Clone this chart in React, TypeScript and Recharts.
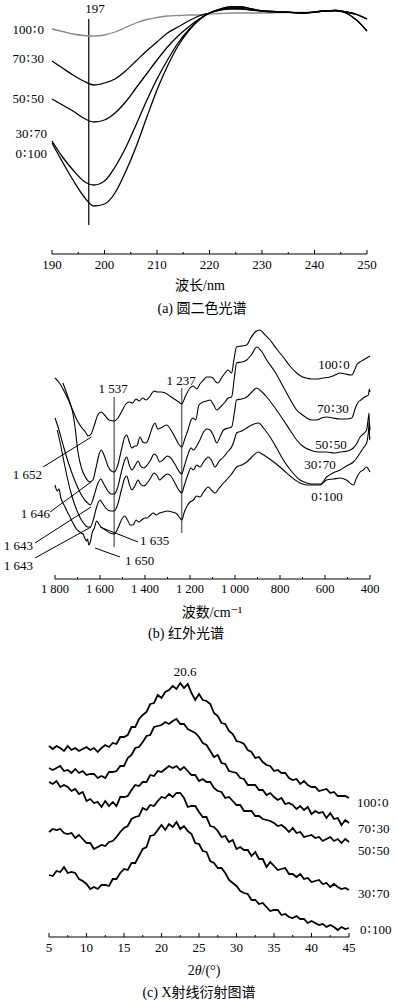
import React from "react";
import { LineChart, Line, XAxis, YAxis, ReferenceLine } from "recharts";

const FONT = '"Liberation Serif", "Times New Roman", "DejaVu Serif", "Noto Sans CJK SC", serif';

// (a) circular dichroism, wavelength in nm, ellipticity in arbitrary units
const cdWavelength = [190, 192, 194, 196, 198, 200, 202, 204, 206, 208, 210, 212, 214, 216, 218, 220, 222, 224, 226, 228, 230, 234, 238, 242, 244, 246, 248, 250];
const cd100_0 = [-3.4, -3.9, -4.4, -4.7, -4.8, -4.6, -4.0, -3.1, -2.2, -1.5, -1.1, -0.8, -0.7, -0.6, -0.6, -0.4, -0.3, -0.2, -0.2, -0.2, -0.2, -0.1, -0.1, 0.2, 0.2, 0, -0.4, -1.4];
const cd70_30 = [-9.8, -11.2, -12.6, -13.8, -14.6, -14.2, -13.4, -11.8, -9.8, -7.8, -6.0, -4.2, -3.0, -1.8, -0.8, -0.2, 0.4, 0.6, 0.6, 0.4, 0.2, 0, -0.2, 0.2, 0.3, 0, -0.5, -1.4];
const cd50_50 = [-17.4, -18.6, -19.8, -21.2, -22.0, -21.6, -20.2, -18.0, -15.2, -12.4, -9.6, -7.0, -4.8, -3.0, -1.4, -0.2, 0.4, 0.8, 0.7, 0.4, 0.2, 0, -0.2, 0.2, 0.3, -0.2, -1.6, -3.8];
const cd30_70 = [-25.8, -29.0, -31.6, -33.8, -34.6, -33.8, -31.0, -27.2, -22.6, -17.8, -13.4, -9.6, -6.2, -3.6, -1.6, -0.2, 0.6, 1.0, 1.0, 0.6, 0.2, 0, -0.2, 0.2, 0.3, -0.2, -1.6, -3.8];
const cd0_100 = [-26.2, -30.0, -33.6, -36.8, -38.8, -38.4, -36.2, -32.0, -27.0, -21.2, -15.6, -10.8, -6.8, -3.8, -1.6, -0.2, 0.6, 1.0, 1.0, 0.6, 0.2, 0, -0.2, 0.2, 0.3, 0, -0.5, -1.4];
const cdTicks = [190, 195, 200, 205, 210, 215, 220, 225, 230, 235, 240, 245, 250];
const cdMajor = [190, 200, 210, 220, 230, 240, 250];
const cdMajorLabels = ["190", "200", "210", "220", "230", "240", "250"];

// (b) infrared, [wavenumber, transmittance a.u.]
const ir100_0: [number, number][] = [
  [1800, 19.8], [1780, 19.3], [1760, 18.5], [1740, 17.6], [1720, 16.5], [1700, 15.5], [1680, 14.8], [1665, 14.4], [1652, 14.0], [1640, 14.2],
  [1625, 15.1], [1610, 16.1], [1595, 16.4], [1580, 16.1], [1560, 15.6], [1537, 15.5], [1520, 15.8], [1500, 16.6], [1485, 17.2], [1470, 17.4],
  [1455, 17.3], [1440, 17.7], [1425, 17.5], [1410, 17.8], [1395, 17.6], [1380, 17.9], [1360, 18.5], [1345, 18.4], [1330, 18.4], [1310, 18.3],
  [1290, 18.0], [1270, 17.7], [1250, 17.4], [1237, 17.2], [1220, 18.0], [1200, 18.8], [1185, 19.0], [1170, 18.7], [1156, 19.2], [1140, 19.6],
  [1126, 19.9], [1110, 19.9], [1098, 19.8], [1085, 19.4], [1075, 19.3], [1060, 19.8], [1044, 20.3], [1031, 20.6], [1015, 20.3], [1005, 21.6],
  [993, 22.9], [970, 23.0], [948, 23.1], [930, 23.8], [910, 24.4], [889, 24.6], [870, 24.2], [844, 23.6], [815, 22.7], [786, 21.9],
  [756, 21.0], [726, 20.3], [700, 19.9], [682, 19.8], [660, 19.7], [637, 19.7], [610, 19.8], [578, 19.9], [555, 20.1], [533, 20.3],
  [510, 20.2], [481, 20.1], [470, 20.5], [459, 21.1], [445, 21.4], [430, 21.6], [415, 21.8], [400, 22.0],
];
const ir70_30: [number, number][] = [
  [1765, 19.3], [1750, 18.4], [1733, 17.3], [1720, 16.2], [1711, 14.9], [1698, 12.4], [1681, 10.7], [1665, 9.9], [1646, 9.4], [1632, 9.6],
  [1618, 10.8], [1605, 12.1], [1595, 12.6], [1582, 12.1], [1565, 11.0], [1550, 10.5], [1537, 10.4], [1522, 11.0], [1505, 12.6], [1490, 13.9],
  [1481, 14.1], [1470, 13.4], [1458, 12.8], [1445, 13.0], [1437, 13.0], [1422, 13.9], [1410, 13.4], [1395, 13.3], [1380, 14.0], [1365, 15.0],
  [1356, 15.3], [1343, 14.7], [1330, 14.8], [1304, 15.1], [1285, 14.6], [1265, 13.8], [1248, 13.1], [1237, 12.9], [1222, 13.8], [1209, 14.6],
  [1195, 15.6], [1186, 15.8], [1175, 15.6], [1160, 17.1], [1141, 17.4], [1125, 17.5], [1111, 17.6], [1095, 17.1], [1081, 16.6], [1065, 16.9],
  [1044, 17.4], [1030, 17.8], [1015, 17.9], [1003, 19.8], [993, 21.3], [970, 21.4], [948, 21.6], [925, 22.2], [904, 22.9], [880, 22.4],
  [859, 21.6], [822, 20.4], [785, 18.9], [756, 17.7], [726, 16.6], [700, 16.1], [681, 15.8], [660, 15.6], [637, 15.6], [615, 15.8],
  [593, 15.9], [565, 15.8], [533, 15.7], [505, 15.7], [481, 15.8], [465, 16.8], [452, 17.4], [440, 17.6], [430, 17.8], [415, 18.0],
  [407, 18.1], [403, 18.7], [400, 18.4],
];
const ir50_50: [number, number][] = [
  [1800, 15.8], [1785, 14.8], [1770, 13.6], [1755, 12.4], [1740, 11.3], [1720, 10.0], [1700, 8.9], [1680, 8.0], [1660, 7.4], [1643, 7.1],
  [1628, 7.9], [1612, 9.1], [1597, 9.7], [1583, 9.2], [1565, 8.5], [1550, 8.2], [1537, 8.2], [1522, 8.8], [1505, 10.4], [1490, 11.6],
  [1481, 11.9], [1470, 11.1], [1458, 10.6], [1445, 11.0], [1431, 11.5], [1420, 11.0], [1405, 10.8], [1390, 11.1], [1375, 11.6], [1360, 12.2],
  [1348, 12.0], [1335, 11.4], [1320, 11.6], [1300, 12.0], [1285, 11.8], [1265, 11.1], [1250, 10.5], [1237, 10.2], [1225, 11.0], [1210, 12.1],
  [1195, 12.8], [1185, 12.6], [1170, 13.0], [1156, 13.6], [1140, 14.4], [1125, 14.7], [1111, 14.6], [1095, 14.0], [1081, 13.3], [1065, 14.0],
  [1051, 14.6], [1030, 14.8], [1015, 14.9], [1003, 16.3], [993, 17.6], [970, 17.7], [948, 17.9], [925, 18.4], [904, 18.8], [880, 18.4],
  [859, 17.9], [822, 16.8], [785, 15.6], [756, 14.6], [726, 13.6], [700, 13.0], [667, 12.6], [630, 12.4], [593, 12.4], [560, 12.3],
  [533, 12.4], [500, 12.5], [474, 12.8], [460, 13.2], [444, 13.9], [430, 14.2], [415, 14.6], [407, 15.9], [404, 16.3], [402, 13.6], [400, 13.9],
];
const ir30_70: [number, number][] = [
  [1790, 14.6], [1775, 13.1], [1760, 11.4], [1745, 9.8], [1730, 8.4], [1715, 7.3], [1700, 6.4], [1685, 5.7], [1670, 5.2], [1655, 4.9],
  [1643, 4.9], [1630, 5.6], [1615, 6.9], [1600, 7.6], [1590, 7.3], [1575, 6.8], [1555, 6.5], [1537, 6.5], [1522, 7.1], [1505, 8.6],
  [1490, 9.8], [1481, 10.0], [1470, 9.2], [1458, 8.6], [1445, 9.0], [1431, 9.6], [1420, 9.2], [1405, 9.0], [1390, 9.3], [1375, 9.8],
  [1360, 10.3], [1348, 10.1], [1335, 9.6], [1320, 9.9], [1300, 10.2], [1285, 10.0], [1265, 9.2], [1250, 8.6], [1237, 8.3], [1225, 9.1],
  [1210, 10.1], [1195, 10.8], [1185, 10.6], [1170, 11.1], [1156, 10.9], [1140, 11.4], [1119, 11.9], [1105, 11.6], [1089, 10.9], [1070, 11.5],
  [1051, 11.9], [1030, 12.5], [1015, 12.9], [1003, 13.6], [993, 14.3], [970, 14.5], [948, 14.8], [925, 15.1], [896, 15.3], [870, 14.7],
  [844, 13.9], [815, 12.8], [785, 11.6], [750, 10.5], [711, 9.6], [680, 9.3], [660, 9.2], [637, 9.2], [620, 9.2], [593, 9.9],
  [565, 10.3], [533, 10.6], [505, 11.0], [474, 11.4], [444, 12.3], [430, 12.8], [415, 13.3], [407, 14.4], [403, 15.4], [400, 14.6],
];
const ir0_100: [number, number][] = [
  [1800, 9.1], [1790, 8.5], [1782, 8.7], [1775, 7.9], [1765, 7.3], [1755, 6.9], [1745, 6.4], [1735, 6.0], [1725, 5.5], [1715, 5.1],
  [1705, 4.7], [1695, 4.5], [1685, 4.3], [1675, 4.2], [1668, 3.8], [1660, 3.5], [1655, 3.7], [1650, 3.1], [1643, 3.4], [1635, 4.3],
  [1625, 4.8], [1615, 5.5], [1605, 5.2], [1595, 4.9], [1575, 4.6], [1555, 4.3], [1537, 4.2], [1520, 4.8], [1505, 5.6], [1490, 6.0],
  [1478, 5.6], [1465, 5.1], [1453, 5.1], [1440, 5.6], [1428, 5.4], [1415, 5.6], [1400, 5.8], [1391, 5.8], [1375, 6.1], [1364, 6.3],
  [1350, 6.1], [1335, 6.3], [1320, 6.4], [1300, 6.5], [1280, 6.4], [1258, 6.2], [1245, 5.8], [1237, 5.6], [1225, 6.4], [1210, 7.1],
  [1200, 7.4], [1185, 7.6], [1170, 8.0], [1156, 7.9], [1140, 8.4], [1119, 8.9], [1105, 8.6], [1089, 8.3], [1070, 8.8], [1051, 9.3],
  [1030, 9.8], [1015, 10.2], [1003, 10.6], [993, 10.9], [970, 11.1], [948, 11.4], [925, 11.9], [896, 12.4], [880, 12.2], [859, 11.9],
  [822, 11.3], [785, 10.6], [750, 9.9], [711, 9.3], [680, 9.1], [652, 9.1], [622, 9.1], [593, 9.6], [563, 9.7], [533, 9.8],
  [505, 9.6], [474, 9.1], [460, 9.8], [444, 10.4], [430, 10.6], [415, 10.9], [405, 10.6], [400, 10.4],
];
const irTicks = [1800, 1700, 1600, 1500, 1400, 1300, 1200, 1100, 1000, 900, 800, 700, 600, 500, 400];
const irMajor = [1800, 1600, 1400, 1200, 1000, 800, 600, 400];
const irMajorLabels = ["1 800", "1 600", "1 400", "1 200", "1 000", "800", "600", "400"];

// (c) X-ray diffraction, 2theta in degrees, intensity a.u.
const xrdAngle = [
  5, 5.5, 6, 6.5, 7, 7.5, 8, 8.5, 9, 9.5, 10, 10.5, 11, 11.5, 12, 12.5, 13, 13.5, 14, 14.5,
  15, 15.5, 16, 16.5, 17, 17.5, 18, 18.5, 19, 19.5, 20, 20.5, 21, 21.5, 22, 22.5, 23, 23.5, 24, 24.5,
  25, 25.5, 26, 26.5, 27, 27.5, 28, 28.5, 29, 29.5, 30, 30.5, 31, 31.5, 32, 32.5, 33, 33.5, 34, 34.5,
  35, 35.5, 36, 36.5, 37, 37.5, 38, 38.5, 39, 39.5, 40, 40.5, 41, 41.5, 42, 42.5, 43, 43.5, 44, 44.5, 45,
];
const xrd100_0 = [
  190, 187, 190, 188, 185, 190, 186, 188, 185, 187, 189, 186, 188, 184, 188, 191, 189, 193, 192, 199,
  199, 201, 209, 209, 217, 221, 224, 232, 233, 241, 238, 244, 246, 250, 247, 253, 248, 252, 243, 236,
  242, 236, 235, 232, 223, 220, 213, 212, 205, 202, 195, 194, 192, 186, 184, 178, 179, 174, 171, 170,
  165, 166, 163, 163, 158, 156, 157, 152, 155, 151, 149, 149, 145, 146, 147, 143, 144, 140, 140, 140, 138,
];
const xrd70_30 = [
  168, 166, 168, 170, 165, 166, 163, 167, 163, 165, 161, 162, 162, 158, 160, 158, 164, 164, 165, 170,
  170, 178, 181, 188, 189, 194, 200, 201, 209, 210, 211, 214, 212, 215, 217, 212, 212, 207, 205, 203,
  199, 193, 191, 185, 179, 181, 173, 172, 165, 164, 163, 158, 157, 151, 151, 151, 146, 146, 141, 143,
  139, 136, 138, 132, 133, 131, 127, 130, 126, 129, 122, 125, 123, 124, 118, 123, 117, 118, 111, 116, 113,
];
const xrd50_50 = [
  154, 152, 155, 149, 151, 149, 145, 147, 142, 144, 135, 137, 133, 134, 129, 135, 130, 134, 130, 139,
  139, 140, 146, 151, 150, 154, 154, 161, 160, 165, 164, 167, 170, 168, 170, 166, 169, 165, 161, 161,
  155, 157, 154, 154, 148, 145, 144, 138, 139, 135, 131, 131, 125, 125, 125, 120, 120, 117, 116, 115,
  113, 110, 111, 108, 104, 108, 103, 104, 99, 100, 101, 98, 99, 95, 97, 99, 95, 97, 93, 97, 94,
];
const xrd30_70 = [
  104, 107, 106, 107, 103, 102, 103, 98, 101, 97, 93, 93, 87, 89, 91, 90, 94, 95, 99, 104,
  108, 110, 117, 119, 120, 128, 126, 131, 130, 135, 139, 138, 142, 139, 143, 143, 138, 129, 130, 130,
  124, 119, 119, 110, 109, 105, 99, 100, 94, 96, 87, 89, 86, 86, 80, 84, 77, 77, 69, 74,
  70, 66, 67, 68, 62, 62, 59, 62, 57, 58, 54, 55, 56, 52, 53, 49, 52, 49, 47, 48, 46,
];
const xrd0_100 = [
  61, 60, 65, 64, 69, 63, 64, 63, 57, 55, 52, 47, 49, 47, 51, 51, 50, 57, 57, 63,
  67, 66, 73, 73, 80, 87, 89, 100, 101, 106, 111, 106, 112, 109, 114, 107, 110, 105, 102, 93,
  92, 85, 84, 75, 73, 68, 68, 63, 56, 53, 50, 45, 43, 42, 36, 36, 32, 33, 29, 25,
  26, 26, 21, 22, 19, 18, 20, 17, 17, 13, 15, 13, 11, 12, 9, 11, 9, 6, 9, 7, 8,
];
const xrdTicks = [5, 7.5, 10, 12.5, 15, 17.5, 20, 22.5, 25, 27.5, 30, 32.5, 35, 37.5, 40, 42.5, 45];
const xrdMajor = [5, 10, 15, 20, 25, 30, 35, 40, 45];
const xrdMajorLabels = ["5", "10", "15", "20", "25", "30", "35", "40", "45"];

const cdRows = cdWavelength.map((nm, i) => ({
  nm, a: cd100_0[i], b: cd70_30[i], c: cd50_50[i], d: cd30_70[i], e: cd0_100[i],
}));
const xrdRows = xrdAngle.map((t, i) => ({
  t, a: xrd100_0[i], b: xrd70_30[i], c: xrd50_50[i], d: xrd30_70[i], e: xrd0_100[i],
}));
const toRows = (pts: [number, number][]) => pts.map(([wn, v]) => ({ wn, v }));

const makeTick = (major: number[], labels: string[], dy: number, size: number) => (p: any) => {
  const i = major.indexOf(p.payload.value);
  return (
    <g>
      <line x1={p.x} x2={p.x} y1={p.y} y2={p.y - (i >= 0 ? 4 : 2)} stroke="#000" strokeWidth={1} />
      {i >= 0 && (
        <text x={p.x} y={p.y + dy} textAnchor="middle" fontSize={size} style={{ fontFamily: FONT }} fill="#000">
          {labels[i]}
        </text>
      )}
    </g>
  );
};

const T = ({ size = 13, ...rest }: any) => (
  <text style={{ fontFamily: FONT, fontSize: size }} fill="#000" dominantBaseline="central" {...rest} />
);

// blend ratio label, e.g. 100∶0, with a narrow ratio sign
const R = ({ a, b, ...rest }: any) => (
  <T {...rest}>
    {a}
    <tspan style={{ fontFamily: '"DejaVu Sans", sans-serif' }} dx={1}>∶</tspan>
    <tspan dx={1}>{b}</tspan>
  </T>
);

export default function App() {
  return (
    <div style={{ position: "absolute", left: 0, top: 0, width: 396, height: 1000, background: "#fff" }}>
      <div style={{ position: "absolute", left: 0, top: 0 }}>
        <LineChart width={396} height={272} data={cdRows} margin={{ top: 2, right: 29, bottom: 0, left: 52 }}>
          <XAxis dataKey="nm" type="number" domain={[190, 250]} ticks={cdTicks} interval={0} height={18}
            tickSize={0} tickMargin={0} tickLine={false} stroke="#000" tick={makeTick(cdMajor, cdMajorLabels, 15, 13)} />
          <YAxis hide domain={[-48.4, 2]} />
          <ReferenceLine segment={[{ x: 197, y: -1.4 }, { x: 197, y: -42.6 }]} stroke="#000" strokeWidth={1.2} />
          <Line dataKey="a" type="monotone" stroke="#8a8a8a" strokeWidth={1.3} dot={false} isAnimationActive={false} />
          <Line dataKey="b" type="monotone" stroke="#000" strokeWidth={1.3} dot={false} isAnimationActive={false} />
          <Line dataKey="c" type="monotone" stroke="#000" strokeWidth={1.3} dot={false} isAnimationActive={false} />
          <Line dataKey="d" type="monotone" stroke="#000" strokeWidth={1.3} dot={false} isAnimationActive={false} />
          <Line dataKey="e" type="monotone" stroke="#000" strokeWidth={1.3} dot={false} isAnimationActive={false} />
        </LineChart>
      </div>

      <div style={{ position: "absolute", left: 0, top: 300 }}>
        <LineChart width={396} height={300} margin={{ top: 20, right: 26, bottom: 0, left: 55 }}>
          <XAxis dataKey="wn" type="number" domain={[400, 1800]} reversed ticks={irTicks} interval={0} height={21}
            tickSize={0} tickMargin={0} tickLine={false} stroke="#000" tick={makeTick(irMajor, irMajorLabels, 14, 12.5)}
            allowDuplicatedCategory={false} />
          <YAxis hide domain={[-0.3, 25.6]} />
          <ReferenceLine segment={[{ x: 1537, y: 17.9 }, { x: 1537, y: 2.9 }]} stroke="#707070" strokeWidth={1.5} />
          <ReferenceLine segment={[{ x: 1237, y: 18.8 }, { x: 1237, y: 4.3 }]} stroke="#707070" strokeWidth={1.5} />
          <ReferenceLine ifOverflow="visible" segment={[{ x: 1853, y: 10.9 }, { x: 1638, y: 13.9 }]} stroke="#000" />
          <ReferenceLine ifOverflow="visible" segment={[{ x: 1822, y: 6.4 }, { x: 1640, y: 9.4 }]} stroke="#000" />
          <ReferenceLine ifOverflow="visible" segment={[{ x: 1889, y: 3.3 }, { x: 1640, y: 6.9 }]} stroke="#000" />
          <ReferenceLine ifOverflow="visible" segment={[{ x: 1889, y: 1.8 }, { x: 1640, y: 4.9 }]} stroke="#000" />
          <ReferenceLine ifOverflow="visible" segment={[{ x: 1431, y: 3.4 }, { x: 1600, y: 4.9 }]} stroke="#000" />
          <ReferenceLine ifOverflow="visible" segment={[{ x: 1511, y: 1.9 }, { x: 1622, y: 2.8 }]} stroke="#000" />
          <Line data={toRows(ir100_0)} dataKey="v" type="monotone" stroke="#000" strokeWidth={1.1} dot={false} isAnimationActive={false} />
          <Line data={toRows(ir70_30)} dataKey="v" type="monotone" stroke="#000" strokeWidth={1.1} dot={false} isAnimationActive={false} />
          <Line data={toRows(ir50_50)} dataKey="v" type="monotone" stroke="#000" strokeWidth={1.1} dot={false} isAnimationActive={false} />
          <Line data={toRows(ir30_70)} dataKey="v" type="monotone" stroke="#000" strokeWidth={1.1} dot={false} isAnimationActive={false} />
          <Line data={toRows(ir0_100)} dataKey="v" type="monotone" stroke="#000" strokeWidth={1.1} dot={false} isAnimationActive={false} />
        </LineChart>
      </div>

      <div style={{ position: "absolute", left: 0, top: 640 }}>
        <LineChart width={396} height={320} data={xrdRows} margin={{ top: 20, right: 47, bottom: 0, left: 49 }}>
          <XAxis dataKey="t" type="number" domain={[5, 45]} ticks={xrdTicks} interval={0} height={23}
            tickSize={0} tickMargin={0} tickLine={false} stroke="#000" tick={makeTick(xrdMajor, xrdMajorLabels, 15, 13)} />
          <YAxis hide domain={[-1, 276]} />
          <Line dataKey="a" type="linear" stroke="#000" strokeWidth={1.8} dot={false} isAnimationActive={false} />
          <Line dataKey="b" type="linear" stroke="#000" strokeWidth={1.8} dot={false} isAnimationActive={false} />
          <Line dataKey="c" type="linear" stroke="#000" strokeWidth={1.8} dot={false} isAnimationActive={false} />
          <Line dataKey="d" type="linear" stroke="#000" strokeWidth={1.8} dot={false} isAnimationActive={false} />
          <Line dataKey="e" type="linear" stroke="#000" strokeWidth={1.8} dot={false} isAnimationActive={false} />
        </LineChart>
      </div>

      <svg width={396} height={1000} style={{ position: "absolute", left: 0, top: 0, pointerEvents: "none" }}>
        {/* (a) */}
        <T x={95} y={8} textAnchor="middle">197</T>
        <R x={44} y={29} textAnchor="end" a="100" b="0" />
        <R x={44} y={58} textAnchor="end" a="70" b="30" />
        <R x={44} y={98} textAnchor="end" a="50" b="50" />
        <R x={47} y={133} textAnchor="end" a="30" b="70" />
        <R x={47} y={153} textAnchor="end" a="0" b="100" />
        <T x={200} y={285} textAnchor="middle" size={14}>波长/nm</T>
        <T x={202} y={308} textAnchor="middle" size={14}>(a) 圆二色光谱</T>

        {/* (b) */}
        <T x={113} y={388} textAnchor="middle">1 537</T>
        <T x={181} y={380} textAnchor="middle">1 237</T>
        <R x={334} y={364} textAnchor="middle" a="100" b="0" />
        <R x={333} y={408} textAnchor="middle" a="70" b="30" />
        <R x={331} y={444} textAnchor="middle" a="50" b="50" />
        <R x={320} y={464} textAnchor="middle" a="30" b="70" />
        <R x={327} y={496} textAnchor="middle" a="0" b="100" />
        <T x={42} y={474} textAnchor="end">1 652</T>
        <T x={50} y={513} textAnchor="end">1 646</T>
        <T x={33} y={545} textAnchor="end">1 643</T>
        <T x={33} y={565} textAnchor="end">1 643</T>
        <T x={140} y={540} textAnchor="start">1 635</T>
        <T x={125} y={560} textAnchor="start">1 650</T>
        <T x={212} y={612} textAnchor="middle" size={14}>波数/cm⁻¹</T>
        <T x={186} y={633} textAnchor="middle" size={14}>(b) 红外光谱</T>

        {/* (c) */}
        <T x={185} y={671} textAnchor="middle">20.6</T>
        <R x={357} y={802} textAnchor="start" a="100" b="0" />
        <R x={358} y={828} textAnchor="start" a="70" b="30" />
        <R x={358} y={850} textAnchor="start" a="50" b="50" />
        <R x={358} y={893} textAnchor="start" a="30" b="70" />
        <R x={360} y={929} textAnchor="start" a="0" b="100" />
        <T x={204} y={970} textAnchor="middle" size={14}>
          2<tspan fontStyle="italic">θ</tspan>/(°)
        </T>
        <T x={199} y={992} textAnchor="middle" size={14}>(c) X射线衍射图谱</T>
      </svg>
    </div>
  );
}
